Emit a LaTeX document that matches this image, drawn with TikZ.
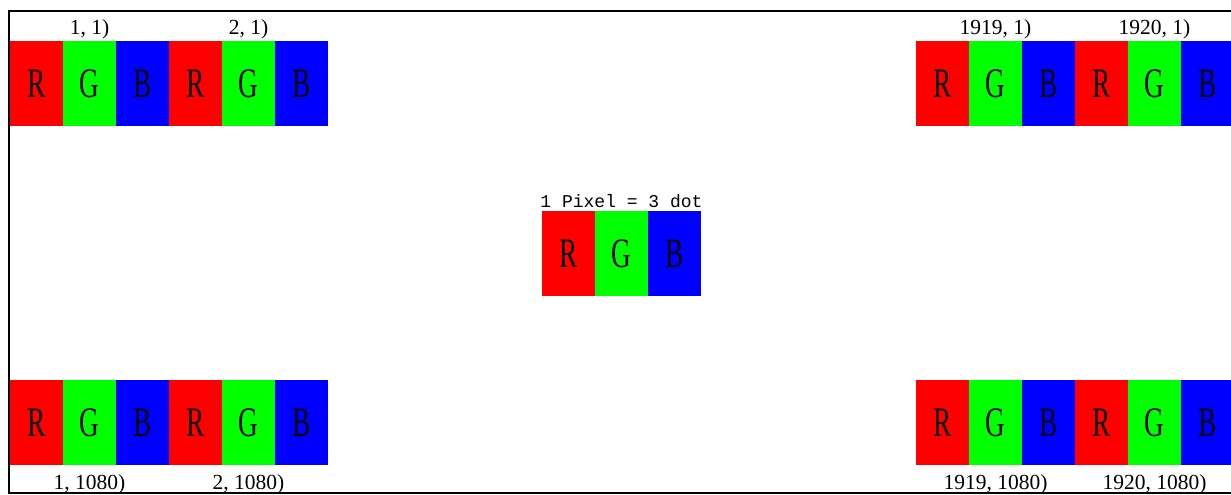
\documentclass[tikz,border=0pt]{standalone}
\usepackage{fontspec}
\setmainfont{Liberation Serif}
\newfontfamily\labelmono{Liberation Mono}
\usetikzlibrary{positioning}

\newcommand{\dotletter}[1]{\scalebox{0.65}[1]{#1}}

\begin{document}
\begin{tikzpicture}[x=1pt,y=-1pt,
  dot/.style={minimum width=53pt,minimum height=85pt,inner sep=0pt,outer sep=0pt,
    anchor=north west,font=\fontsize{42}{42}\selectfont},
  lbl/.style={inner sep=0pt,font=\fontsize{21.5}{21.5}\selectfont}]

\useasboundingbox (0,0) rectangle (1231,495);
\clip (0,0) rectangle (1231,495);

% sizes
\def\dw{53}

% frame
\draw[line width=2pt] (1240,11) -| (9,493) -- (1240,493);

% corner strips
\foreach \g/\gx/\gy in {tl/10/41, tr/916/41, bl/10/380, br/916/380}
  \foreach \c/\col [count=\i from 0] in {R/red,G/green,B/blue,R/red,G/green,B/blue}
    \node[dot,fill=\col] (\g\i) at (\gx+\i*\dw,\gy) {\dotletter{\c}};

% one pixel in the middle
\foreach \c/\col [count=\i from 0] in {R/red,G/green,B/blue}
  \node[dot,fill=\col] (mid\i) at (542+\i*\dw,211) {\dotletter{\c}};

% labels
\node[lbl,above=2pt of tl1] (tlA) {1, 1)};
\node[lbl,above=2pt of tl4] (tlB) {2, 1)};
\node[lbl,above=2pt of tr1] (trA) {1919, 1)};
\node[lbl,above=2pt of tr4] (trB) {1920, 1)};
\node[lbl,below=9pt of bl1] (blA) {1, 1080)};
\node[lbl,below=9pt of bl4] (blB) {2, 1080)};
\node[lbl,below=9pt of br1] (brA) {1919, 1080)};
\node[lbl,below=9pt of br4] (brB) {1920, 1080)};
\node[lbl,above=3pt of mid1,font=\labelmono\fontsize{18}{18}\selectfont] (pix) {1 Pixel = 3 dot};

\end{tikzpicture}
\end{document}
